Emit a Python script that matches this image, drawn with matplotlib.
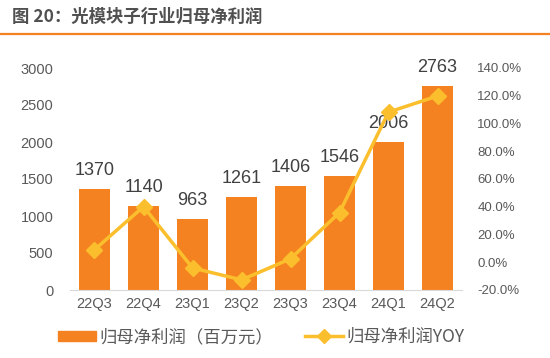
import matplotlib
matplotlib.use("Agg")
import matplotlib.pyplot as plt
from matplotlib.ticker import FuncFormatter
from matplotlib.lines import Line2D
from matplotlib.patches import Patch

plt.rcParams['font.family'] = ['Noto Sans CJK SC', 'DejaVu Sans']

# data
quarters = ['22Q3', '22Q4', '23Q1', '23Q2', '23Q3', '23Q4', '24Q1', '24Q2']
profit = [1370, 1140, 963, 1261, 1406, 1546, 2006, 2763]      # 百万元
yoy = [9.0, 40.1, -4.1, -12.7, 2.5, 35.8, 108.2, 119.8]       # %

bar_color = '#F58220'
line_color = '#FBBF2D'
text_grey = '#595959'

fig = plt.figure(figsize=(5.5, 3.58), dpi=100)

# title and orange rule
fig.text(12 / 550, 1 - 17 / 358, '图 20：光模块子行业归母净利润', fontsize=12.5,
         fontweight='bold', color='#505050', va='center', ha='left')
fig.add_artist(Line2D([0, 1], [1 - 34 / 358, 1 - 34 / 358], color=bar_color, lw=1.6))

ax = fig.add_axes([70 / 550, 1 - 290 / 358, 392 / 550, 222 / 358])
x = range(len(quarters))
ax.bar(x, profit, width=0.63, color=bar_color, zorder=2)
ax.set_ylim(0, 3000)
ax.set_xlim(-0.5, len(quarters) - 0.5)
ax.set_yticks(range(0, 3001, 500))
ax.set_xticks(list(x))
ax.set_xticklabels(quarters)
for s in ['top', 'right', 'left']:
    ax.spines[s].set_visible(False)
ax.spines['bottom'].set_color('#D9D9D9')
ax.tick_params(length=0, colors=text_grey, labelsize=10.5, pad=5)
ax.tick_params(axis='y', pad=12)
for lab in ax.get_xticklabels() + ax.get_yticklabels():
    lab.set_family(['Liberation Sans', 'DejaVu Sans'])

for xi, v in zip(x, profit):
    ax.annotate(str(v), (xi, v), xytext=(0, 7), textcoords='offset points',
                ha='center', va='bottom', fontsize=13, color='#404040',
                family=['Liberation Sans', 'DejaVu Sans'])

ax2 = ax.twinx()
ax2.plot(list(x), yoy, color=line_color, lw=2.5, marker='D', markersize=8, zorder=3)
ax2.set_ylim(-20, 140)
ax2.set_yticks(range(-20, 141, 20))
ax2.yaxis.set_major_formatter(FuncFormatter(lambda v, p: f'{v:.1f}%'))
for s in ['top', 'right', 'left', 'bottom']:
    ax2.spines[s].set_visible(False)
ax2.tick_params(length=0, colors=text_grey, labelsize=9.5, pad=11)
for lab in ax2.get_yticklabels():
    lab.set_family(['Liberation Sans', 'DejaVu Sans'])

handles = [Patch(color=bar_color),
           Line2D([], [], color=line_color, lw=2.5, marker='D', markersize=7)]
fig.legend(handles, ['归母净利润（百万元）', '归母净利润YOY'], loc='center',
           bbox_to_anchor=(261 / 550, 1 - 337 / 358), ncol=2, frameon=False,
           fontsize=12.5, handlelength=2.2, handleheight=0.5, columnspacing=1.8,
           handletextpad=0.2, labelcolor=text_grey)

fig.savefig('out.png', dpi=100)
